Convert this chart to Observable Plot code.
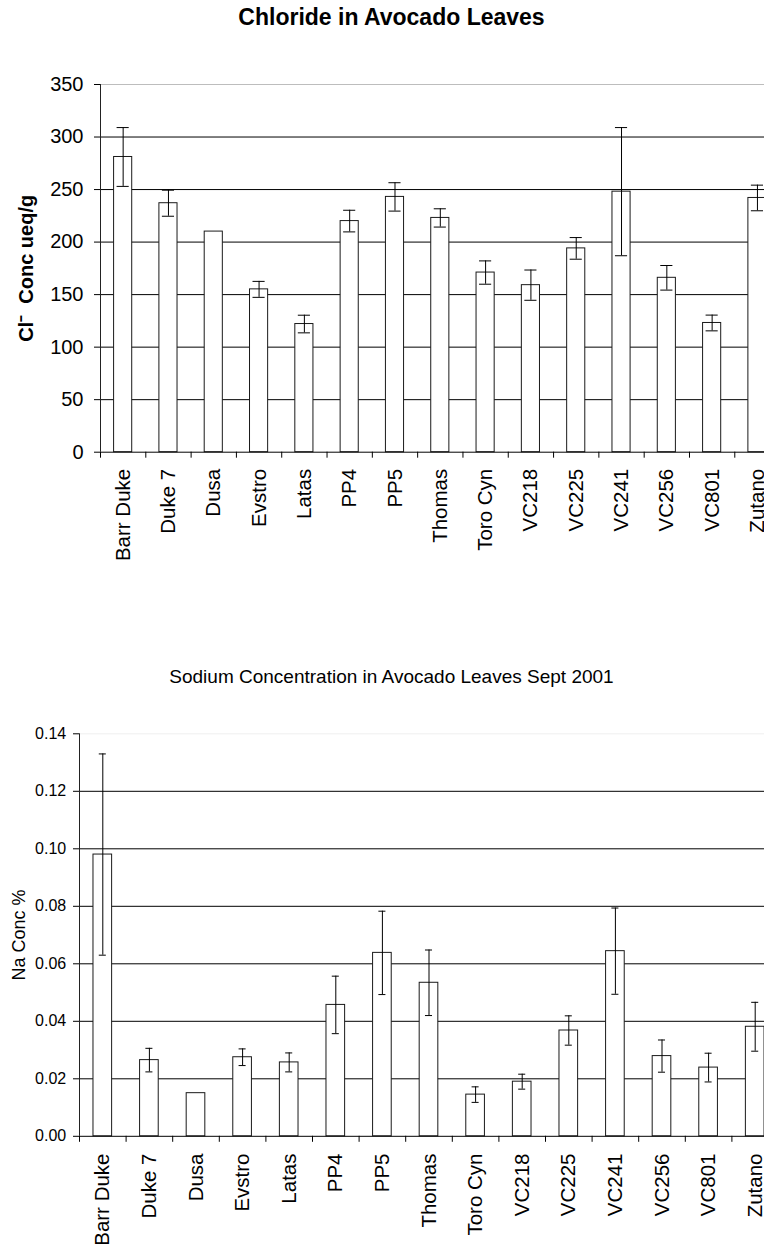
<!DOCTYPE html>
<html>
<head>
<meta charset="utf-8">
<script src="https://cdn.jsdelivr.net/npm/d3@7"></script>
<script src="https://cdn.jsdelivr.net/npm/@observablehq/plot@0.6"></script>
<style>
  html, body { margin: 0; padding: 0; background: #fff; }
  #wrap { position: relative; width: 764px; height: 1251px; overflow: hidden; background: #fff;
          font-family: "Liberation Sans", Arial, sans-serif; color: #000; }
  .title { position: absolute; left: 0; width: 783px; text-align: center; white-space: nowrap; }
  #t1 { top: 6px; font-size: 23px; line-height: 23px; font-weight: bold; }
  #t2 { top: 667px; font-size: 19px; line-height: 19px; }
  #c1 { position: absolute; top: 40px; left: 0; }
  #c2 { position: absolute; top: 700px; left: 0; }
</style>
</head>
<body>
<div id="wrap">
  <div id="c1"></div>
  <div id="c2"></div>
  <div class="title" id="t1">Chloride in Avocado Leaves</div>
  <div class="title" id="t2">Sodium Concentration in Avocado Leaves Sept 2001</div>
</div>
<script>
const categories = ["Barr Duke","Duke 7","Dusa","Evstro","Latas","PP4","PP5","Thomas","Toro Cyn","VC218","VC225","VC241","VC256","VC801","Zutano"];
const chloride    = [281, 237, 210, 155, 122, 220, 243, 223, 171, 159, 194, 248, 166, 123, 242];
const chlorideErr = [28, 12.4, null, 7.6, 8.4, 10.3, 13.5, 8.7, 11.1, 14.4, 10.3, 61, 11.7, 7.5, 12.2];
const sodium      = [0.098, 0.0265, 0.015, 0.0275, 0.0257, 0.0457, 0.0638, 0.0534, 0.0145, 0.019, 0.0368, 0.0644, 0.0279, 0.0239, 0.0381];
const sodiumErr   = [0.035, 0.0041, null, 0.0029, 0.0033, 0.0100, 0.0145, 0.0114, 0.0027, 0.0026, 0.0051, 0.015, 0.0056, 0.005, 0.0085];
const chlorideTicks = [0, 50, 100, 150, 200, 250, 300, 350];
const sodiumTicks = [0, 0.02, 0.04, 0.06, 0.08, 0.10, 0.12, 0.14];

const font = "Liberation Sans, Arial, sans-serif";

function makeChart(opts) {
  const {values, errs, ticks, yMax, height, mTop, mBottom, mLeft, xStop, capInset,
         yFontSize, yTickPad, yFormat, yLabel, yLabelBold, yLabelSize, yLabelX, xPad, topLineColor} = opts;
  const data = categories.map((name, i) => ({name, value: values[i], err: errs[i]}));
  const withErr = data.filter(d => d.err != null);
  const step = (xStop - mLeft) / categories.length;
  const grid = ticks.filter(t => t > 0 && t < yMax);
  return Plot.plot({
    width: 764,
    height,
    marginTop: mTop,
    marginBottom: mBottom,
    marginLeft: mLeft,
    marginRight: 0,
    style: {fontFamily: font, background: "white", color: "#000"},
    x: {type: "band", domain: categories, range: [mLeft, xStop], paddingInner: 0.6, paddingOuter: 0.3, round: false, label: null},
    y: {domain: [0, yMax], label: null},
    marks: [
      Plot.ruleY(grid, {stroke: "#000", strokeWidth: 1}),
      Plot.ruleY([yMax], {stroke: topLineColor, strokeWidth: 1}),
      Plot.barY(data, {x: "name", y: "value", fill: "white", stroke: "#1a1a1a", strokeWidth: 1}),
      Plot.ruleX(withErr, {x: "name", y1: d => d.value - d.err, y2: d => d.value + d.err, stroke: "#000", strokeWidth: 1}),
      Plot.tickY(withErr, {x: "name", y: d => d.value + d.err, insetLeft: capInset, insetRight: capInset, stroke: "#000", strokeWidth: 1}),
      Plot.tickY(withErr, {x: "name", y: d => d.value - d.err, insetLeft: capInset, insetRight: capInset, stroke: "#000", strokeWidth: 1}),
      Plot.ruleY([0], {stroke: "#000", strokeWidth: 1}),
      Plot.ruleX([categories[0]], {x: d => d, y1: 0, y2: yMax, dx: -step / 2, stroke: "#222", strokeWidth: 1}),
      Plot.ruleX(categories, {x: d => d, y1: 0, y2: 0, insetBottom: -6, dx: -step / 2, stroke: "#000", strokeWidth: 1}),
      Plot.axisY({ticks, tickSize: 6, tickPadding: yTickPad, fontSize: yFontSize, tickFormat: yFormat, label: null}),
      Plot.axisX({tickSize: 0, tickPadding: xPad, tickRotate: -90, fontSize: 20.5, label: null}),
      Plot.text([yLabel], {frameAnchor: "left", textAnchor: "middle", lineAnchor: "middle", rotate: -90,
                           dx: yLabelX - mLeft, fontSize: yLabelSize,
                           fontWeight: yLabelBold ? "bold" : "normal", fill: "#000"})
    ]
  });
}

document.getElementById("c1").appendChild(makeChart({
  values: chloride, errs: chlorideErr, ticks: chlorideTicks, yMax: 350,
  height: 600, mTop: 44, mBottom: 188.3, mLeft: 100, xStop: 779.6, capInset: 3,
  yFontSize: 20, yTickPad: 11, yFormat: d3.format("d"),
  yLabel: "Cl\u207B  Conc ueq/g", yLabelBold: true, yLabelSize: 20, yLabelX: 26,
  xPad: 16.6, topLineColor: "#bdbdbd"
}));

document.getElementById("c2").appendChild(makeChart({
  values: sodium, errs: sodiumErr, ticks: sodiumTicks, yMax: 0.14,
  height: 551, mTop: 33.3, mBottom: 115.2, mLeft: 79, xStop: 778, capInset: 5.8,
  yFontSize: 16, yTickPad: 7.3, yFormat: d3.format(".2f"),
  yLabel: "Na Conc %", yLabelBold: false, yLabelSize: 18, yLabelX: 19,
  xPad: 17.2, topLineColor: "#efefef"
}));
</script>
</body>
</html>
